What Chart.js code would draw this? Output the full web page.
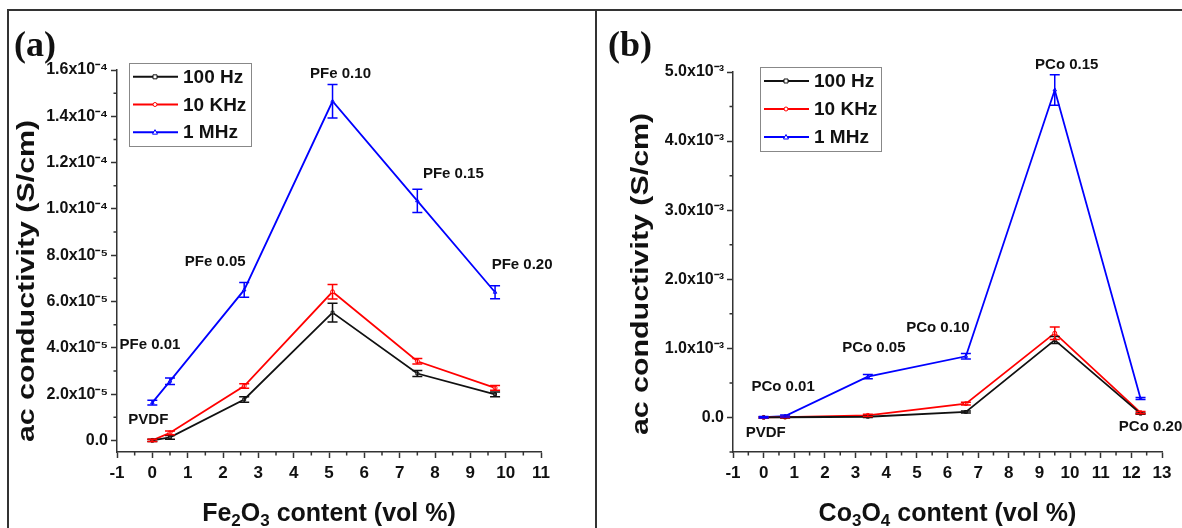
<!DOCTYPE html>
<html>
<head>
<meta charset="utf-8">
<script src="https://cdn.jsdelivr.net/npm/chart.js@4.4.1/dist/chart.umd.min.js"></script>
<style>
  body { margin: 0; background: #fff; }
  #wrap { position: relative; width: 1182px; height: 528px; overflow: hidden; background: #fff; }
  .frame { position: absolute; background: #333; }
  canvas { position: absolute; top: 0; }
  #chartFe { left: 0; }
  #chartCo { left: 597px; }
</style>
</head>
<body>
<div id="wrap">
  <div class="frame" style="left:7px;top:9px;width:1175px;height:2px"></div>
  <div class="frame" style="left:7px;top:9px;width:2px;height:519px"></div>
  <div class="frame" style="left:595px;top:9px;width:2px;height:519px"></div>
  <canvas id="chartFe" width="595" height="528"></canvas>
  <canvas id="chartCo" width="585" height="528"></canvas>
</div>
<script>
// ---- data: panel (a) Fe2O3 ----
const feContent = [0, 0.5, 2.6, 5.1, 7.5, 9.7];
const fe100Hz = [0, 0.13e-5, 1.77e-5, 5.52e-5, 2.89e-5, 1.99e-5];
const fe100HzErr = [0.05e-5, 0.08e-5, 0.12e-5, 0.4e-5, 0.13e-5, 0.1e-5];
const fe10kHz = [0, 0.33e-5, 2.35e-5, 6.42e-5, 3.42e-5, 2.27e-5];
const fe10kHzErr = [0.05e-5, 0.08e-5, 0.1e-5, 0.31e-5, 0.12e-5, 0.1e-5];
const fe1MHz = [1.63e-5, 2.56e-5, 6.5e-5, 1.465e-4, 1.035e-4, 6.4e-5];
const fe1MHzErr = [0.1e-5, 0.14e-5, 0.32e-5, 0.72e-5, 0.5e-5, 0.28e-5];
const feNotes = ["PVDF", "PFe 0.01", "PFe 0.05", "PFe 0.10", "PFe 0.15", "PFe 0.20"];
const feXTicks = [-1, 0, 1, 2, 3, 4, 5, 6, 7, 8, 9, 10, 11];
const feYTicks = [0, 2e-5, 4e-5, 6e-5, 8e-5, 1e-4, 1.2e-4, 1.4e-4, 1.6e-4];
const feYTickLabels = ["0.0", "2.0x10⁻⁵", "4.0x10⁻⁵", "6.0x10⁻⁵", "8.0x10⁻⁵",
  "1.0x10⁻⁴", "1.2x10⁻⁴", "1.4x10⁻⁴", "1.6x10⁻⁴"];

// ---- data: panel (b) Co3O4 ----
const coContent = [0, 0.7, 3.4, 6.6, 9.5, 12.3];
const co100Hz = [0, 0.003e-3, 0.01e-3, 0.08e-3, 1.12e-3, 0.055e-3];
const co100HzErr = [0.01e-3, 0.01e-3, 0.01e-3, 0.015e-3, 0.05e-3, 0.01e-3];
const co10kHz = [0, 0.005e-3, 0.03e-3, 0.2e-3, 1.22e-3, 0.07e-3];
const co10kHzErr = [0.01e-3, 0.01e-3, 0.015e-3, 0.02e-3, 0.09e-3, 0.015e-3];
const co1MHz = [0.003e-3, 0.02e-3, 0.59e-3, 0.885e-3, 4.74e-3, 0.275e-3];
const co1MHzErr = [0.01e-3, 0.015e-3, 0.03e-3, 0.04e-3, 0.22e-3, 0.015e-3];
const coNotes = ["PVDF", "PCo 0.01", "PCo 0.05", "PCo 0.10", "PCo 0.15", "PCo 0.20"];
const coXTicks = [-1, 0, 1, 2, 3, 4, 5, 6, 7, 8, 9, 10, 11, 12, 13];
const coYTicks = [0, 1e-3, 2e-3, 3e-3, 4e-3, 5e-3];
const coYTickLabels = ["0.0", "1.0x10⁻³", "2.0x10⁻³", "3.0x10⁻³", "4.0x10⁻³", "5.0x10⁻³"];

const seriesNames = ["100 Hz", "10 KHz", "1 MHz"];
const seriesColors = ["#111111", "#ff0000", "#0000ff"];
const seriesMarks = ["rect", "circle", "triangle"];

const FONT = '"Liberation Sans", Arial, sans-serif';
Chart.defaults.font.family = FONT;
Chart.defaults.color = "#111";

const toPoints = (xs, ys) => xs.map((x, i) => ({ x: x, y: ys[i] }));

// error bars, drawn through the chart's own scales
const errorBars = {
  id: "errorBars",
  afterDatasetsDraw(chart) {
    const { ctx, scales } = chart;
    chart.data.datasets.forEach((ds) => {
      ctx.save();
      ctx.strokeStyle = ds.borderColor;
      ctx.lineWidth = 1.5;
      ds.data.forEach((p, i) => {
        const e = ds.errors[i];
        const x = scales.x.getPixelForValue(p.x);
        const y1 = scales.y.getPixelForValue(p.y + e);
        const y2 = scales.y.getPixelForValue(p.y - e);
        ctx.beginPath();
        ctx.moveTo(x, y1); ctx.lineTo(x, y2);
        ctx.moveTo(x - 5, y1); ctx.lineTo(x + 5, y1);
        ctx.moveTo(x - 5, y2); ctx.lineTo(x + 5, y2);
        ctx.stroke();
      });
      ctx.restore();
    });
  },
};

const drawMark = (ctx, style, x, y, color) => {
  ctx.save();
  ctx.fillStyle = "#fff";
  ctx.strokeStyle = color;
  ctx.lineWidth = 1;
  ctx.beginPath();
  if (style === "rect") ctx.rect(x - 2, y - 2, 4, 4);
  else if (style === "circle") ctx.arc(x, y, 2, 0, Math.PI * 2);
  else { ctx.moveTo(x, y - 2.5); ctx.lineTo(x + 2.5, y + 2); ctx.lineTo(x - 2.5, y + 2); ctx.closePath(); }
  ctx.fill(); ctx.stroke();
  ctx.restore();
};

// titles, notes, legend, minor ticks
const decor = (cfg) => ({
  id: "decor",
  afterDraw(chart) {
    const { ctx, chartArea, scales } = chart;
    ctx.save();
    ctx.fillStyle = "#111";

    // minor ticks
    ctx.strokeStyle = "#333";
    ctx.lineWidth = 1.5;
    ctx.beginPath();
    for (let v = scales.x.min + 0.5; v < scales.x.max; v += 1) {
      const px = scales.x.getPixelForValue(v);
      ctx.moveTo(px, chartArea.bottom); ctx.lineTo(px, chartArea.bottom + 3.5);
    }
    const step = cfg.yStep;
    for (let v = -step / 2; v < scales.y.max; v += step) {
      if (v < scales.y.min - 1e-12) continue;
      const py = scales.y.getPixelForValue(v);
      ctx.moveTo(chartArea.left, py); ctx.lineTo(chartArea.left - 3.5, py);
    }
    ctx.stroke();

    // panel tag
    ctx.font = 'bold 36px "Liberation Serif", "Times New Roman", serif';
    ctx.textAlign = "left";
    ctx.textBaseline = "alphabetic";
    ctx.fillText(cfg.tag, cfg.tagX, 56);

    // y title
    ctx.save();
    ctx.translate(cfg.yTitleX, cfg.yTitleY);
    ctx.rotate(-Math.PI / 2);
    ctx.scale(1.32, 1);
    ctx.font = "bold 23px " + FONT;
    ctx.textAlign = "center";
    ctx.fillText("ac conductivity (S/cm)", 0, 0);
    ctx.restore();

    // x title with subscripts
    const parts = cfg.xTitle;
    const big = "bold 25px " + FONT, small = "bold 17px " + FONT;
    let total = 0;
    parts.forEach(([t, sub]) => { ctx.font = sub ? small : big; total += ctx.measureText(t).width; });
    let tx = (chartArea.left + chartArea.right) / 2 - total / 2;
    parts.forEach(([t, sub]) => {
      ctx.font = sub ? small : big;
      ctx.fillText(t, tx, 521 + (sub ? 5 : 0));
      tx += ctx.measureText(t).width;
    });

    // point notes, anchored to the 1 MHz points
    const top = chart.getDatasetMeta(2).data;
    ctx.font = "bold 15px " + FONT;
    ctx.textAlign = "center";
    ctx.textBaseline = "middle";
    cfg.notes.forEach((t, i) => {
      const [dx, dy] = cfg.noteOffsets[i];
      ctx.fillText(t, top[i].x + dx, top[i].y + dy);
    });

    // legend box
    const lg = cfg.legend;
    ctx.strokeStyle = "#888";
    ctx.lineWidth = 1;
    ctx.strokeRect(lg.x + 0.5, lg.y + 0.5, lg.w, lg.h);
    ctx.font = "bold 19px " + FONT;
    ctx.textAlign = "left";
    chart.data.datasets.forEach((ds, i) => {
      const ry = lg.y + lg.h * (2 * i + 1) / 6;
      ctx.strokeStyle = ds.borderColor;
      ctx.lineWidth = 2;
      ctx.beginPath();
      ctx.moveTo(lg.x + 4, ry); ctx.lineTo(lg.x + 49, ry);
      ctx.stroke();
      drawMark(ctx, ds.pointStyle, lg.x + 26, ry, ds.borderColor);
      ctx.fillStyle = "#111";
      ctx.fillText(ds.label, lg.x + 54, ry + 1);
    });
    ctx.restore();
  },
});

const makePanel = (id, p) => {
  const ctx = document.getElementById(id).getContext("2d");
  const datasets = p.series.map((s, i) => ({
    label: seriesNames[i],
    data: toPoints(p.xs, s.values),
    errors: s.errors,
    borderColor: seriesColors[i],
    backgroundColor: seriesColors[i],
    borderWidth: 1.8,
    pointStyle: seriesMarks[i],
    pointRadius: 2,
    pointBackgroundColor: "#fff",
    pointBorderColor: seriesColors[i],
    pointBorderWidth: 1,
    tension: 0,
  }));
  return new Chart(ctx, {
    type: "line",
    data: { datasets },
    plugins: [errorBars, decor(p.decor)],
    options: {
      responsive: false,
      animation: false,
      devicePixelRatio: 1,
      layout: { padding: { left: 0, right: p.padRight, top: p.padTop, bottom: 0 } },
      plugins: { legend: { display: false }, tooltip: { enabled: false } },
      scales: {
        x: {
          type: "linear",
          min: p.xTicks[0],
          max: p.xTicks[p.xTicks.length - 1],
          afterFit: (s) => { s.height = 76; },
          afterBuildTicks: (s) => { s.ticks = p.xTicks.map((v) => ({ value: v })); },
          ticks: { font: { size: 17, weight: "bold" }, color: "#111", padding: 5, maxRotation: 0, autoSkip: false,
            callback: (v) => String(v) },
          grid: { drawOnChartArea: false, drawTicks: true, tickLength: 6, tickWidth: 1.5, tickColor: "#333" },
          border: { display: true, color: "#333", width: 1.5 },
        },
        y: {
          type: "linear",
          min: p.yMin,
          max: p.yTicks[p.yTicks.length - 1],
          afterFit: (s) => { s.width = p.yWidth; },
          afterBuildTicks: (s) => { s.ticks = p.yTicks.map((v) => ({ value: v })); },
          ticks: { font: { size: 16, weight: "bold" }, color: "#111", padding: 3,
            callback: (v, i) => p.yLabels[i] },
          grid: { drawOnChartArea: false, drawTicks: true, tickLength: 6, tickWidth: 1.5, tickColor: "#333" },
          border: { display: true, color: "#333", width: 1.5 },
        },
      },
    },
  });
};

makePanel("chartFe", {
  xs: feContent,
  series: [
    { values: fe100Hz, errors: fe100HzErr },
    { values: fe10kHz, errors: fe10kHzErr },
    { values: fe1MHz, errors: fe1MHzErr },
  ],
  xTicks: feXTicks,
  yTicks: feYTicks,
  yLabels: feYTickLabels,
  yMin: -0.5e-5,
  yWidth: 117,
  padTop: 70,
  padRight: 54,
  decor: {
    tag: "(a)", tagX: 14, yStep: 2e-5,
    yTitleX: 34, yTitleY: 281,
    xTitle: [["Fe", 0], ["2", 1], ["O", 0], ["3", 1], [" content (vol %)", 0]],
    notes: feNotes,
    noteOffsets: [[-4, 17], [-20, -36], [-29, -28], [8, -27], [36, -27], [27, -27]],
    legend: { x: 129, y: 63, w: 122, h: 83 },
  },
});

makePanel("chartCo", {
  xs: coContent,
  series: [
    { values: co100Hz, errors: co100HzErr },
    { values: co10kHz, errors: co10kHzErr },
    { values: co1MHz, errors: co1MHzErr },
  ],
  xTicks: coXTicks,
  yTicks: coYTicks,
  yLabels: coYTickLabels,
  yMin: -0.5e-3,
  yWidth: 136,
  padTop: 72,
  padRight: 20,
  decor: {
    tag: "(b)", tagX: 11, yStep: 1e-3,
    yTitleX: 51, yTitleY: 274,
    xTitle: [["Co", 0], ["3", 1], ["O", 0], ["4", 1], [" content (vol %)", 0]],
    notes: coNotes,
    noteOffsets: [[2, 16], [-2, -29], [6, -29], [-28, -28], [12, -25], [10, 28]],
    legend: { x: 163, y: 67, w: 121, h: 84 },
  },
});
</script>
</body>
</html>
